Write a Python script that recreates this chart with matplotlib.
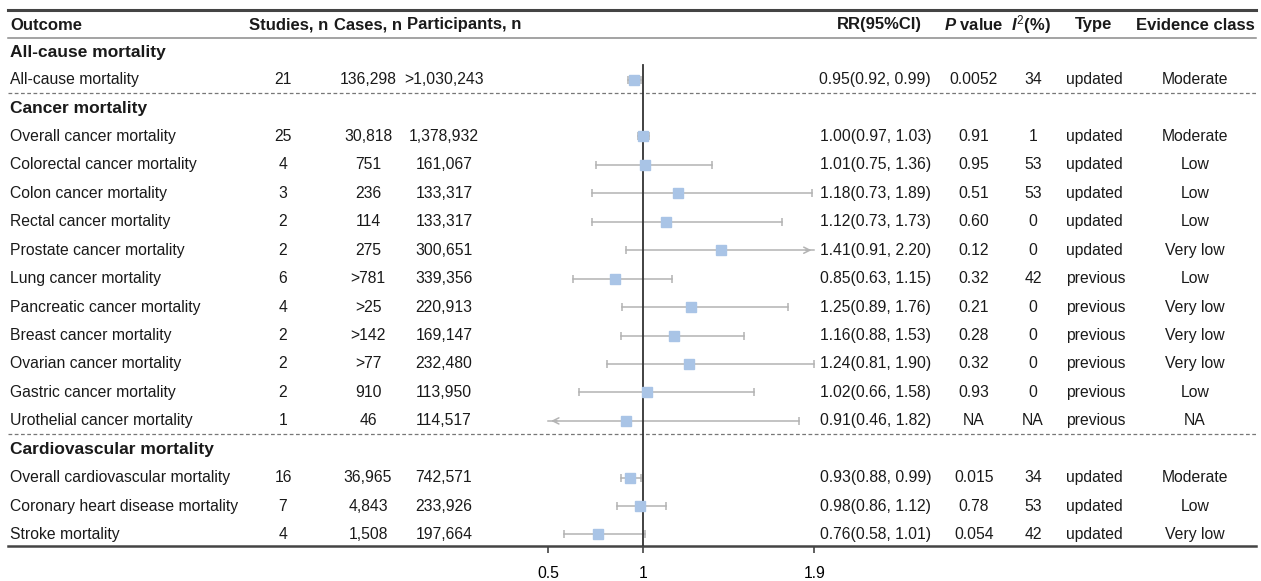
import numpy as np
import matplotlib
matplotlib.use("Agg")
import matplotlib.pyplot as plt

plt.rcParams.update({"font.family": "Liberation Sans", "font.size": 11,
                     "mathtext.fontset": "custom",
                     "mathtext.it": "Liberation Sans:italic:bold",
                     "mathtext.rm": "Liberation Sans"})

# ---------------- data ----------------
groups = ["All-cause mortality", "Cancer mortality", "Cardiovascular mortality"]
group_sizes = [1, 11, 3]
outcomes = ["All-cause mortality", "Overall cancer mortality", "Colorectal cancer mortality",
            "Colon cancer mortality", "Rectal cancer mortality", "Prostate cancer mortality",
            "Lung cancer mortality", "Pancreatic cancer mortality", "Breast cancer mortality",
            "Ovarian cancer mortality", "Gastric cancer mortality", "Urothelial cancer mortality",
            "Overall cardiovascular mortality", "Coronary heart disease mortality", "Stroke mortality"]
studies = [21, 25, 4, 3, 2, 2, 6, 4, 2, 2, 2, 1, 16, 7, 4]
cases = ["136,298", "30,818", "751", "236", "114", "275", ">781", ">25", ">142", ">77",
         "910", "46", "36,965", "4,843", "1,508"]
participants = [">1,030,243", "1,378,932", "161,067", "133,317", "133,317", "300,651",
                "339,356", "220,913", "169,147", "232,480", "113,950", "114,517",
                "742,571", "233,926", "197,664"]
rr = [0.95, 1.00, 1.01, 1.18, 1.12, 1.41, 0.85, 1.25, 1.16, 1.24, 1.02, 0.91, 0.93, 0.98, 0.76]
lo = [0.92, 0.97, 0.75, 0.73, 0.73, 0.91, 0.63, 0.89, 0.88, 0.81, 0.66, 0.46, 0.88, 0.86, 0.58]
hi = [0.99, 1.03, 1.36, 1.89, 1.73, 2.20, 1.15, 1.76, 1.53, 1.90, 1.58, 1.82, 0.99, 1.12, 1.01]
pvals = ["0.0052", "0.91", "0.95", "0.51", "0.60", "0.12", "0.32", "0.21", "0.28", "0.32",
         "0.93", "NA", "0.015", "0.78", "0.054"]
i2 = ["34", "1", "53", "53", "0", "0", "42", "0", "0", "0", "0", "NA", "34", "53", "42"]
types = ["updated"] * 6 + ["previous"] * 6 + ["updated"] * 3
evidence = ["Moderate", "Moderate", "Low", "Low", "Low", "Very low", "Low", "Very low",
            "Very low", "Very low", "Low", "NA", "Moderate", "Low", "Very low"]
xticks = [0.5, 1, 1.9]
xmin, xmax = 0.5, 1.9

W, H = 1261, 581
BLUE = "#a9c4e6"; GREY = "#b3b3b3"; TXT = "#1a1a1a"

# ---------------- row layout (pixel units) ----------------
step, group_gap, dash_gap, dash_to_group = 28.45, 27.7, 13, 16
group_y, item_y, dash_y = [], [], []
y = 52
for gi, n in enumerate(group_sizes):
    group_y.append(y)
    y += group_gap
    for k in range(n):
        item_y.append(y)
        if k < n - 1:
            y += step
    if gi < len(group_sizes) - 1:
        dash_y.append(y + dash_gap)
        y = y + dash_gap + dash_to_group
bottom_y = item_y[-1] + 12

fig = plt.figure(figsize=(W / 100, H / 100), dpi=100)
ax = fig.add_axes([0, 0, 1, 1])
ax.set_xlim(0, W); ax.set_ylim(H, 0); ax.axis("off")

# rules
ax.plot([8, 1256], [10, 10], color="#444444", lw=2.2)
ax.plot([8, 1256], [37.5, 37.5], color="#8a8a8a", lw=1.1)
for d in dash_y:
    ax.plot([8, 1256], [d, d], color="#777777", lw=0.9, ls=(0, (3, 2)))
ax.plot([8, 1256], [bottom_y, bottom_y], color="#444444", lw=1.8)

# header
hy = 25
hkw = dict(fontweight="bold", fontsize=12, va="center", color=TXT)
ax.text(10, hy, "Outcome", ha="left", **hkw)
ax.text(289, hy, "Studies, n", ha="center", **hkw)
ax.text(368, hy, "Cases, n", ha="center", **hkw)
ax.text(407, hy, "Participants, n", ha="left", **hkw)
ax.text(922, hy, "RR(95%CI)", ha="right", **hkw)
ax.text(974, hy, r"$P$ value", ha="center", **hkw)
ax.text(1031, hy, r"$I^{2}$(%)", ha="center", **hkw)
ax.text(1094, hy, "Type", ha="center", **hkw)
ax.text(1255, hy, "Evidence class", ha="right", **hkw)

for g, gy in zip(groups, group_y):
    ax.text(10, gy, g, ha="left", va="center", fontweight="bold", fontsize=12.5, color=TXT)

for i, yy in enumerate(item_y):
    kw = dict(va="center", color=TXT, fontsize=11.3)
    ax.text(10, yy, outcomes[i], ha="left", **kw)
    ax.text(283, yy, str(studies[i]), ha="center", **kw)
    ax.text(368, yy, cases[i], ha="center", **kw)
    ax.text(444, yy, participants[i], ha="center", **kw)
    ax.text(931, yy, f"{rr[i]:.2f}({lo[i]:.2f}, {hi[i]:.2f})", ha="right", **kw)
    ax.text(974, yy, pvals[i], ha="center", **kw)
    ax.text(1033, yy, i2[i], ha="center", **kw)
    ax.text(1066, yy, types[i], ha="left", **kw)
    ax.text(1195, yy, evidence[i], ha="center", **kw)

# ---------------- forest panel ----------------
x0, x1 = 548.3, 814.3
fax = fig.add_axes([x0 / W, 1 - bottom_y / H, (x1 - x0) / W, bottom_y / H])
fax.set_xlim(xmin, xmax); fax.set_ylim(bottom_y, 0)
fax.patch.set_visible(False)
for s in fax.spines.values():
    s.set_visible(False)
fax.set_yticks([])
fax.set_xticks(xticks)
fax.set_xticklabels(["0.5", "1", "1.9"])
fax.tick_params(axis="x", direction="out", length=5, width=1.2, color="#444444",
                pad=9, labelsize=11.3)
fax.plot([1, 1], [65, bottom_y], color="#333333", lw=1.3, zorder=2)

for i, yy in enumerate(item_y):
    a, b = max(lo[i], xmin), min(hi[i], xmax)
    fax.plot([a, b], [yy, yy], color=GREY, lw=1.1, zorder=1, clip_on=False)
    if lo[i] >= xmin:
        fax.plot([lo[i]], [yy], marker="|", ms=6, color=GREY, mew=1.1, clip_on=False)
    else:
        fax.annotate("", xy=(xmin, yy), xytext=(xmin + 0.06, yy),
                     arrowprops=dict(arrowstyle="->", color=GREY, lw=1.1), annotation_clip=False)
    if hi[i] <= xmax:
        fax.plot([hi[i]], [yy], marker="|", ms=6, color=GREY, mew=1.1, clip_on=False)
    else:
        fax.annotate("", xy=(xmax, yy), xytext=(xmax - 0.06, yy),
                     arrowprops=dict(arrowstyle="->", color=GREY, lw=1.1), annotation_clip=False)
    fax.plot([rr[i]], [yy], marker="s", ms=7.5, color=BLUE, mec=BLUE, zorder=3)

fig.savefig("out.png", dpi=100)
